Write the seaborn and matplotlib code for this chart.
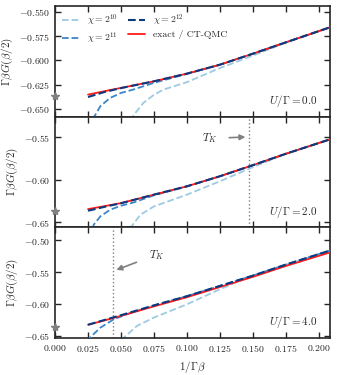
import numpy as np
import pandas as pd
import matplotlib
matplotlib.use("Agg")
import matplotlib.pyplot as plt
from matplotlib.ticker import MultipleLocator
import seaborn as sns

# 1/(Gamma beta) grid for the exact curve and chi=2^12
x_exact = [0.025, 0.0375, 0.05, 0.075, 0.1, 0.125, 0.15, 0.175, 0.21]

# panel U/Gamma = 0.0
exact_u0 = [-0.6353, -0.6318, -0.6284, -0.6216, -0.6137, -0.6045, -0.5932, -0.5815, -0.5653]
chi12_u0 = [-0.6378, -0.6326, -0.6286, -0.6216, -0.6137, -0.6045, -0.5932, -0.5815, -0.5653]
x_chi11_u0 = [0.025, 0.0293, 0.0343, 0.0418, 0.05, 0.0593, 0.075, 0.1, 0.125, 0.15, 0.175, 0.21]
chi11_u0 = [-0.680, -0.659, -0.6473, -0.6387, -0.6336, -0.6301, -0.6232, -0.6140, -0.6046, -0.5932, -0.5815, -0.5653]
x_chi10_u0 = [0.055, 0.0595, 0.067, 0.075, 0.0823, 0.1, 0.125, 0.15, 0.175, 0.21]
chi10_u0 = [-0.672, -0.6566, -0.6438, -0.6355, -0.6301, -0.6225, -0.6080, -0.5952, -0.5818, -0.5653]
star_u0 = -0.6365

# panel U/Gamma = 2.0
exact_u2 = [-0.6347, -0.6312, -0.6276, -0.6177, -0.6079, -0.5961, -0.5831, -0.5697, -0.5520]
chi12_u2 = [-0.6366, -0.6320, -0.6278, -0.6177, -0.6079, -0.5961, -0.5831, -0.5697, -0.5520]
x_chi11_u2 = [0.025, 0.0293, 0.0343, 0.0418, 0.05, 0.0593, 0.075, 0.1, 0.125, 0.15, 0.175, 0.21]
chi11_u2 = [-0.680, -0.653, -0.6433, -0.6354, -0.6307, -0.6270, -0.6185, -0.6080, -0.5961, -0.5831, -0.5697, -0.5520]
x_chi10_u2 = [0.05, 0.057, 0.0647, 0.075, 0.1, 0.125, 0.15, 0.165, 0.175, 0.21]
chi10_u2 = [-0.690, -0.657, -0.6413, -0.6315, -0.6177, -0.6020, -0.5854, -0.5760, -0.5698, -0.5520]
star_u2 = -0.6366
tk_u2 = 0.1468

# panel U/Gamma = 4.0
exact_u4 = [-0.6325, -0.6257, -0.6186, -0.6037, -0.5894, -0.5735, -0.5576, -0.5406, -0.5185]
chi12_u4 = [-0.6325, -0.6250, -0.6175, -0.6022, -0.5878, -0.5718, -0.5557, -0.5385, -0.5155]
x_chi11_u4 = [0.0245, 0.0263, 0.0343, 0.0445, 0.0546, 0.075, 0.1, 0.125, 0.15, 0.175, 0.21]
chi11_u4 = [-0.660, -0.653, -0.6371, -0.6239, -0.6160, -0.6022, -0.5878, -0.5718, -0.5557, -0.5385, -0.5155]
x_chi10_u4 = [0.048, 0.052, 0.062, 0.075, 0.1, 0.125, 0.14, 0.15, 0.175, 0.21]
chi10_u4 = [-0.672, -0.653, -0.6345, -0.6212, -0.6005, -0.5770, -0.5640, -0.5560, -0.5386, -0.5155]
star_u4 = -0.6355
tk_u4 = 0.0437

u_labels = ["0.0", "2.0", "4.0"]
ylims = [(-0.658, -0.544), (-0.656, -0.526), (-0.653, -0.480)]
ysteps = [0.025, 0.05, 0.05]

panels = [
    dict(exact=exact_u0, chi12=chi12_u0, x11=x_chi11_u0, chi11=chi11_u0, x10=x_chi10_u0, chi10=chi10_u0, star=star_u0, tk=None),
    dict(exact=exact_u2, chi12=chi12_u2, x11=x_chi11_u2, chi11=chi11_u2, x10=x_chi10_u2, chi10=chi10_u2, star=star_u2, tk=tk_u2),
    dict(exact=exact_u4, chi12=chi12_u4, x11=x_chi11_u4, chi11=chi11_u4, x10=x_chi10_u4, chi10=chi10_u4, star=star_u4, tk=tk_u4),
]

sns.set_style("ticks")
plt.rcParams["font.family"] = "serif"
plt.rcParams["font.serif"] = ["cmr10", "DejaVu Serif"]
plt.rcParams["mathtext.fontset"] = "cm"
plt.rcParams["axes.formatter.use_mathtext"] = True
plt.rcParams["font.size"] = 7

c10 = "#9ecae1"
c11 = "#3a86c8"
c12 = "#0b3a7e"
cex = "#ff1a1a"

fig, axes = plt.subplots(3, 1, figsize=(3.38, 3.75), dpi=100, sharex=True)
fig.subplots_adjust(left=0.163, right=0.976, top=0.984, bottom=0.099, hspace=0.0)

for i, (ax, p) in enumerate(zip(axes, panels)):
    df10 = pd.DataFrame({"x": p["x10"], "y": p["chi10"]})
    df11 = pd.DataFrame({"x": p["x11"], "y": p["chi11"]})
    df12 = pd.DataFrame({"x": x_exact, "y": p["chi12"]})
    dfex = pd.DataFrame({"x": x_exact, "y": p["exact"]})
    sns.lineplot(data=df10, x="x", y="y", ax=ax, color=c10, lw=1.3, linestyle="--", label=r"$\chi = 2^{10}$", zorder=2)
    sns.lineplot(data=df11, x="x", y="y", ax=ax, color=c11, lw=1.3, linestyle="--", label=r"$\chi = 2^{11}$", zorder=3)
    sns.lineplot(data=dfex, x="x", y="y", ax=ax, color=cex, lw=1.3, linestyle="-", label="exact / CT-QMC", zorder=4)
    sns.lineplot(data=df12, x="x", y="y", ax=ax, color=c12, lw=1.5, linestyle="--", label=r"$\chi = 2^{12}$", zorder=5)
    ax.plot([0.0], [p["star"]], marker="*", color="gray", ms=6, ls="none", clip_on=False, zorder=6)

    if p["tk"] is not None:
        ax.axvline(p["tk"], color="gray", ls=":", lw=1.0, zorder=1)

    ax.set_xlim(0.0, 0.2085)
    ax.set_ylim(*ylims[i])
    ax.yaxis.set_major_locator(MultipleLocator(ysteps[i]))
    ax.xaxis.set_major_locator(MultipleLocator(0.025))
    ax.tick_params(direction="in", top=True, right=True, length=4, width=1.0, labelsize=7)
    for s in ax.spines.values():
        s.set_linewidth(1.2)
    ax.set_ylabel(r"$\Gamma\beta G(\beta/2)$", fontsize=8, labelpad=3)
    ax.set_xlabel("")
    ax.text(0.955, 0.14, r"$U/\Gamma = %s$" % u_labels[i], transform=ax.transAxes,
            ha="right", va="center", fontsize=8)
    if i == 0:
        h, l = ax.get_legend_handles_labels()
        order = [0, 1, 3, 2]
        ax.legend([h[k] for k in order], [l[k] for k in order], ncol=2, loc="upper left",
                  frameon=False, fontsize=7, handlelength=1.8, columnspacing=1.0,
                  labelspacing=0.2, borderaxespad=0.3)
    else:
        ax.get_legend().remove()

axes[1].annotate(r"$T_K$", xy=(0.1444, -0.5500), xytext=(0.1175, -0.5516),
                 fontsize=8, ha="center", va="center",
                 arrowprops=dict(arrowstyle="-|>", color="gray", lw=1.2, shrinkA=6, shrinkB=0))
axes[2].annotate(r"$T_K$", xy=(0.0465, -0.5467), xytext=(0.0770, -0.5228),
                 fontsize=8, ha="center", va="center",
                 arrowprops=dict(arrowstyle="-|>", color="gray", lw=1.2, shrinkA=7, shrinkB=0))

axes[2].set_xlabel(r"$1/\Gamma\beta$", fontsize=8)

fig.savefig("out.png", dpi=100)
